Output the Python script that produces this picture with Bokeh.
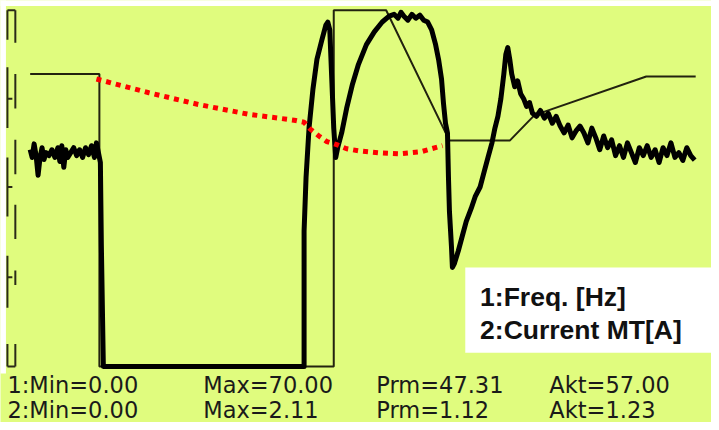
from bokeh.plotting import figure
from bokeh.models import Range1d, Label, BoxAnnotation
from bokeh.embed import file_html
from bokeh.resources import INLINE

# ---------------- data ----------------
# Channel 1: frequency [Hz] vs time [s]
freq_t = [0.22, 0.92, 0.92, 3.29, 3.29, 3.82, 4.46, 5.07, 5.32, 6.45, 6.95]
freq_hz = [57.5, 57.5, 0.0, 0.0, 70.0, 70.0, 44.4, 44.4, 49.4, 57.0, 57.0]

# Channel 2: motor current [A] vs time [s]
cur_t = [0.22, 0.24, 0.26, 0.28, 0.30, 0.32, 0.34, 0.36, 0.38, 0.41, 0.44, 0.47, 0.50,
         0.52, 0.54, 0.56, 0.58, 0.60, 0.63, 0.66, 0.69, 0.72, 0.75, 0.78, 0.81, 0.84,
         0.87, 0.89, 0.91, 0.93, 0.94, 0.96, 2.99, 2.99, 3.01, 3.04, 3.08, 3.12, 3.17,
         3.21, 3.23, 3.25, 3.27, 3.29, 3.31, 3.33, 3.37, 3.42, 3.48, 3.54, 3.62, 3.70,
         3.78, 3.85, 3.90, 3.94, 3.97, 4.00, 4.04, 4.08, 4.12, 4.16, 4.20, 4.24, 4.28,
         4.32, 4.35, 4.38, 4.40, 4.42, 4.44, 4.45, 4.46, 4.48, 4.49, 4.51, 4.55, 4.59,
         4.63, 4.68, 4.72, 4.77, 4.81, 4.85, 4.89, 4.92, 4.95, 4.98, 5.01, 5.03, 5.05,
         5.07, 5.09, 5.12, 5.15, 5.18, 5.21, 5.24, 5.27, 5.30, 5.34, 5.38, 5.42, 5.46,
         5.50, 5.54, 5.58, 5.62, 5.66, 5.70, 5.74, 5.78, 5.82, 5.86, 5.90, 5.94, 5.98,
         6.02, 6.06, 6.10, 6.14, 6.18, 6.22, 6.26, 6.30, 6.34, 6.38, 6.42, 6.46, 6.50,
         6.54, 6.58, 6.62, 6.66, 6.70, 6.74, 6.78, 6.82, 6.86, 6.90, 6.94]
cur_a = [1.292, 1.246, 1.327, 1.257, 1.140, 1.246, 1.304, 1.234, 1.275, 1.257, 1.292, 1.246, 1.304,
         1.222, 1.316, 1.187, 1.292, 1.246, 1.275, 1.304, 1.257, 1.292, 1.246, 1.304, 1.263, 1.316,
         1.246, 1.333, 1.275, 1.216, 0.719, 0.0, 0.0, 0.807, 1.129, 1.421, 1.655, 1.830, 1.947,
         2.035, 2.053, 2.006, 1.713, 1.421, 1.246, 1.304, 1.392, 1.538, 1.684, 1.801, 1.918, 1.994,
         2.053, 2.088, 2.099, 2.076, 2.111, 2.088, 2.064, 2.099, 2.076, 2.094, 2.064, 2.053, 2.006,
         1.918, 1.830, 1.713, 1.567, 1.450, 1.392, 1.129, 0.924, 0.719, 0.591, 0.614, 0.690, 0.778,
         0.865, 0.942, 1.012, 1.070, 1.158, 1.246, 1.333, 1.421, 1.491, 1.596, 1.743, 1.860, 1.901,
         1.830, 1.743, 1.667, 1.702, 1.626, 1.596, 1.550, 1.573, 1.509, 1.491, 1.526, 1.480, 1.509,
         1.450, 1.491, 1.433, 1.392, 1.439, 1.363, 1.404, 1.433, 1.392, 1.333, 1.421, 1.363, 1.292,
         1.374, 1.304, 1.351, 1.257, 1.316, 1.246, 1.333, 1.275, 1.216, 1.304, 1.257, 1.316, 1.246,
         1.292, 1.216, 1.304, 1.257, 1.333, 1.246, 1.275, 1.228, 1.304, 1.257, 1.230]

# Red dotted trend drawn on the frequency scale
trend_t = [0.89, 1.42, 1.92, 2.42, 2.89, 2.99, 3.05, 3.14, 3.22, 3.32, 3.42, 3.54,
           3.75, 3.95, 4.17, 4.39]
trend_hz = [56.5, 53.8, 51.5, 49.6, 48.4, 48.0, 46.7, 45.3, 44.2, 43.6, 42.8, 42.4,
            42.0, 41.8, 42.2, 43.4]

legend_labels = ["1:Freq. [Hz]", "2:Current MT[A]"]
stats_row1 = ["1:Min=0.00", "Max=70.00", "Prm=47.31", "Akt=57.00"]
stats_row2 = ["2:Min=0.00", "Max=2.11", "Prm=1.12", "Akt=1.23"]

# ---------------- layout helpers (reference pixels -> data units) ----------------
W, H = 711, 422                 # figure size (fits the window with the page margin)
REF_W, REF_H = 719, 430         # screen area that the layout is described in
X0, PXS = 8.0, 100.0            # screen x of t=0, pixels per second
F0, PXHZ = 373.0, 5.186         # screen y of 0 Hz, pixels per Hz
PXA = 171.0                     # pixels per ampere
TXT_SHIFT = 8                   # label baseline correction

def tx(px):
    return (px - X0) / PXS

def fy(py):
    return (F0 - py) / PXHZ

BG = "#e0fc7e"

p = figure(width=W, height=H, output_backend="svg", toolbar_location=None,
           x_range=Range1d(tx(0), tx(REF_W)), y_range=Range1d(fy(REF_H), fy(0)),
           min_border=0, min_border_left=0, min_border_right=0,
           min_border_top=0, min_border_bottom=0)
p.extra_y_ranges = {"cur": Range1d((F0 - REF_H) / PXA, F0 / PXA)}
p.axis.visible = False
p.xgrid.visible = False
p.ygrid.visible = False
p.outline_line_color = None
p.background_fill_color = BG
p.border_fill_color = BG

# white margins of the screenshot (top strip and left strip)
p.add_layout(BoxAnnotation(left=tx(-5), right=tx(730), top=fy(-5), bottom=fy(5.5),
                           fill_color="white", fill_alpha=1.0, line_alpha=0))
p.add_layout(BoxAnnotation(left=tx(-5), right=tx(5.5), top=fy(-5), bottom=fy(380),
                           fill_color="white", fill_alpha=1.0, line_alpha=0))

# left-edge scale decoration
lx, rx = 7.0, 15.0
left_segs = [(10, 40), (68, 130), (160, 220), (260, 313), (350, 373)]
right_segs = [(10, 43), (75, 110), (142, 177), (208, 243), (275, 290), (350, 373)]
ticks_y = [100, 190, 282]
x0s, y0s, x1s, y1s = [], [], [], []
for a, b in left_segs:
    x0s.append(tx(lx)); x1s.append(tx(lx)); y0s.append(fy(a)); y1s.append(fy(b))
for a, b in right_segs:
    x0s.append(tx(rx)); x1s.append(tx(rx)); y0s.append(fy(a)); y1s.append(fy(b))
for yy in ticks_y:
    x0s.append(tx(lx)); x1s.append(tx(12)); y0s.append(fy(yy)); y1s.append(fy(yy))
for yy in (10, 373):
    x0s.append(tx(lx)); x1s.append(tx(rx)); y0s.append(fy(yy)); y1s.append(fy(yy))
p.segment(x0=x0s, y0=y0s, x1=x1s, y1=y1s, line_color="#2a2a18", line_width=2)

# series
p.line(freq_t, freq_hz, line_color="#22220f", line_width=2)
p.line(cur_t, cur_a, y_range_name="cur", line_color="black", line_width=5,
       line_join="round")
p.line(trend_t, trend_hz, line_color="#ff0000", line_width=5, line_dash="5 5",
       line_cap="butt")

# legend box
p.add_layout(BoxAnnotation(left=tx(470), right=tx(730), top=fy(272), bottom=fy(359),
                           fill_color="white", fill_alpha=1.0, line_alpha=0))
for lab, by in zip(legend_labels, (310, 344)):
    p.add_layout(Label(x=tx(485), y=fy(by - TXT_SHIFT), text=lab, text_font="Liberation Sans",
                       text_font_style="bold", text_font_size="26.5px", text_color="#111111",
                       text_baseline="alphabetic"))

# stats rows
cols = [7, 205, 380, 555]
for row, by in ((stats_row1, 400), (stats_row2, 425)):
    for txt, cx in zip(row, cols):
        p.add_layout(Label(x=tx(cx), y=fy(by - TXT_SHIFT), text=txt, text_font="DejaVu Sans",
                           text_font_size="22.5px", text_color="#1a1a1a",
                           text_baseline="alphabetic"))

open("out.html", "w").write(file_html(p, INLINE))
